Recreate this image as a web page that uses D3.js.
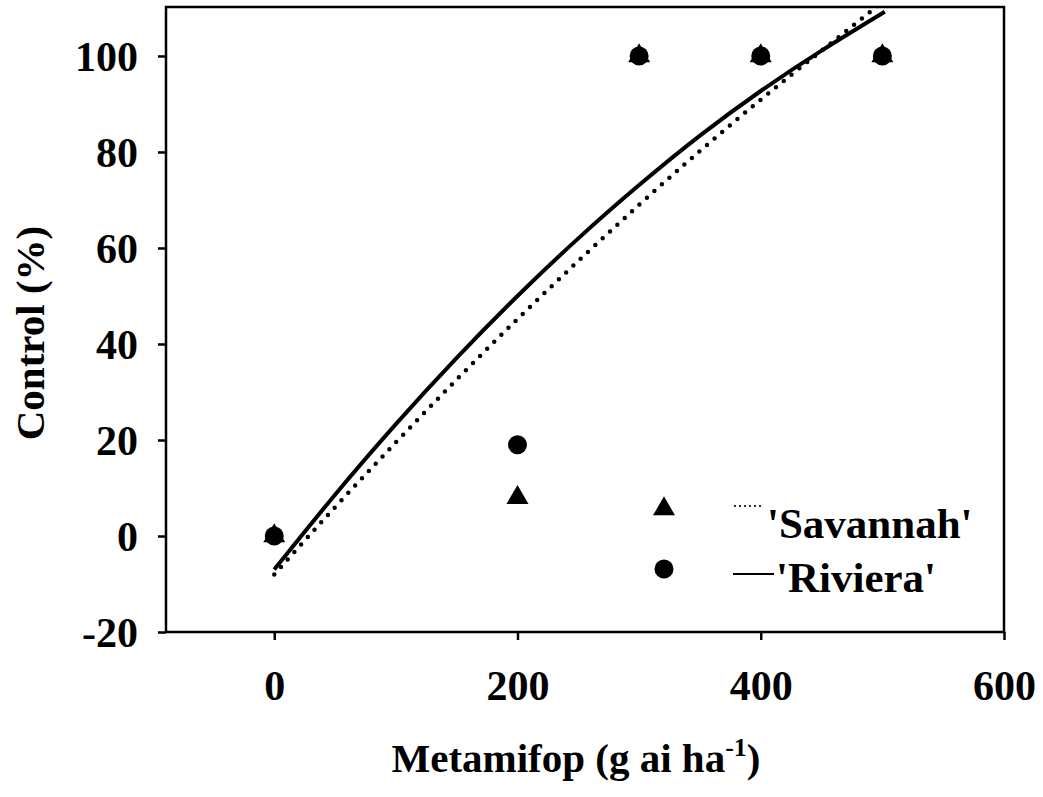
<!DOCTYPE html>
<html><head><meta charset="utf-8">
<script src="https://cdn.jsdelivr.net/npm/d3@7"></script>
<style>body{margin:0;background:#fff}svg{display:block}text{font-family:"Liberation Serif","Times New Roman",serif;font-weight:bold;fill:#000}</style>
</head><body>
<script>
// Observed points
const doses = [0, 200, 300, 400, 500];
const savannahPts = [0, 8, 100, 100, 100];
const rivieraPts = [0, 19, 100, 100, 100];
// Fitted curves
const rivieraCurveX = [0, 50, 100, 150, 200, 250, 300, 350, 400, 450, 502];
const rivieraCurveY = [-7, 8.6, 23.3, 37.1, 50.0, 62.0, 73.1, 83.4, 92.7, 101.1, 109.2];
const savannahCurveX = [0, 50, 100, 150, 200, 250, 300, 350, 400, 450, 497];
const savannahCurveY = [-8, 6.0, 19.5, 32.6, 45.2, 57.3, 69.0, 80.2, 90.9, 101.1, 110.6];
const xTicks = [0, 200, 400, 600];
const yTicks = [-20, 0, 20, 40, 60, 80, 100];
const legendLabels = ["'Savannah'", "'Riviera'"];

const W = 1043, H = 797;
const L = 166, R = 1004, T = 7, B = 632;
const svg = d3.select("body").append("svg").attr("width", W).attr("height", H);
const x = d3.scaleLinear().domain([-89, 600]).range([L, R]);
const y = d3.scaleLinear().domain([-20, 110.2]).range([B, T]);

svg.append("defs").append("clipPath").attr("id","clip")
  .append("rect").attr("x",L).attr("y",T).attr("width",R-L).attr("height",B-T);

// frame
svg.append("rect").attr("x",L).attr("y",T).attr("width",R-L).attr("height",B-T)
  .attr("fill","none").attr("stroke","#000").attr("stroke-width",2.5);

// axes
const fmt = d => String(d);
const xAxis = svg.append("g").attr("transform",`translate(0,${B})`)
  .call(d3.axisBottom(x).tickValues(xTicks).tickSize(8).tickPadding(30).tickFormat(fmt));
const yAxis = svg.append("g").attr("transform",`translate(${L},0)`)
  .call(d3.axisLeft(y).tickValues(yTicks).tickSize(8).tickPadding(20).tickFormat(fmt));
[xAxis, yAxis].forEach(g => {
  g.select(".domain").remove();
  g.selectAll(".tick line").attr("stroke","#000").attr("stroke-width",2.5);
  g.selectAll(".tick text").attr("font-family","Liberation Serif").attr("font-weight","bold")
    .attr("font-size",42).attr("fill","#000");
});
yAxis.selectAll(".tick text").attr("dy","0.34em");

// curves
const line = d3.line().curve(d3.curveNatural).x(d => x(d[0])).y(d => y(d[1]));
const plot = svg.append("g").attr("clip-path","url(#clip)");
plot.append("path").datum(savannahCurveX.map((v,i)=>[v,savannahCurveY[i]]))
  .attr("d",line).attr("fill","none").attr("stroke","#000").attr("stroke-width",4.5)
  .attr("stroke-linecap","round").attr("stroke-dasharray","0,10");
plot.append("path").datum(rivieraCurveX.map((v,i)=>[v,rivieraCurveY[i]]))
  .attr("d",line).attr("fill","none").attr("stroke","#000").attr("stroke-width",4);

// points
const tri = d3.symbol().type(d3.symbolTriangle).size(210);
const circ = d3.symbol().type(d3.symbolCircle).size(283);
svg.append("g").selectAll("path").data(doses.map((d,i)=>[d,savannahPts[i]])).join("path")
  .attr("d",tri).attr("transform",d=>`translate(${x(d[0])},${y(d[1])})`).attr("fill","#000");
svg.append("g").selectAll("path").data(doses.map((d,i)=>[d,rivieraPts[i]])).join("path")
  .attr("d",circ).attr("transform",d=>`translate(${x(d[0])},${y(d[1])})`).attr("fill","#000");

// legend
const lg = svg.append("g");
lg.append("path").attr("d",tri).attr("transform","translate(664,509)").attr("fill","#000");
lg.append("path").attr("d",circ).attr("transform","translate(664,569)").attr("fill","#000");
lg.append("line").attr("x1",735).attr("x2",762).attr("y1",506).attr("y2",506)
  .attr("stroke","#000").attr("stroke-width",2.2).attr("stroke-linecap","round").attr("stroke-dasharray","0,5");
lg.append("line").attr("x1",733).attr("x2",774).attr("y1",574).attr("y2",574)
  .attr("stroke","#000").attr("stroke-width",2);
lg.append("text").attr("x",767).attr("y",538).attr("font-size",43).text(legendLabels[0]);
lg.append("text").attr("x",776).attr("y",592).attr("font-size",43).text(legendLabels[1]);

// axis titles
const xt = svg.append("text").attr("x",576).attr("y",772).attr("text-anchor","middle").attr("font-size",41);
xt.append("tspan").text("Metamifop (g ai ha");
xt.append("tspan").attr("font-size",26).attr("dy",-16).text("-1");
xt.append("tspan").attr("dy",16).text(")");
svg.append("text").attr("transform","translate(44,333) rotate(-90)").attr("text-anchor","middle")
  .attr("font-size",41).text("Control (%)");
</script>
</body></html>
